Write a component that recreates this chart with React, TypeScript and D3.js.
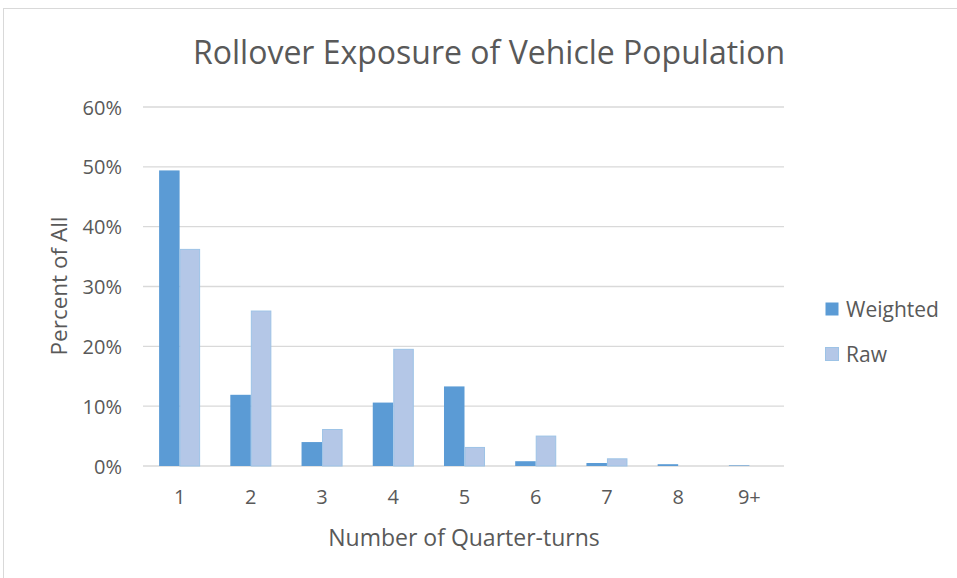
import React from "react";
import * as d3 from "d3";

const categories = ["1", "2", "3", "4", "5", "6", "7", "8", "9+"];
const weighted = [49.4, 11.9, 4.0, 10.6, 13.3, 0.8, 0.5, 0.3, 0.1];
const raw = [36.2, 25.9, 6.1, 19.5, 3.1, 5.0, 1.2, 0.0, 0.0];
const yTicks = [0, 10, 20, 30, 40, 50, 60];
const seriesNames = ["Weighted", "Raw"];

const W = 957;
const H = 578;
const plot = { left: 143, right: 784, top: 107, bottom: 466 };
const font = "'Open Sans', 'Noto Sans', sans-serif";
const textColor = "#595959";
const colors = ["#5B9BD5", "#B4C7E7"];

export default function App() {
  const x = d3.scaleBand().domain(categories).range([plot.left, plot.right]).paddingInner(0).paddingOuter(0);
  const y = d3.scaleLinear().domain([0, 60]).range([plot.bottom, plot.top]);
  const step = x.bandwidth();
  const barW = step * 0.288;
  const series = [weighted, raw];

  return (
    <svg width={W} height={H} style={{ position: "absolute", left: 0, top: 0, background: "#fff" }} fontFamily={font}>
      <rect x={3.5} y={8.5} width={W + 10} height={H + 10} fill="#fff" stroke="#d9d9d9" strokeWidth={1} />
      <text x={489} y={64} textAnchor="middle" fontSize={32} fill={textColor}>
        Rollover Exposure of Vehicle Population
      </text>
      {yTicks.map((t) => (
        <g key={t}>
          <line x1={plot.left} x2={plot.right} y1={y(t)} y2={y(t)} stroke="#d9d9d9" strokeWidth={1.3} />
          <text x={122} y={y(t) + 7.5} textAnchor="end" fontSize={20} fill={textColor}>
            {t}%
          </text>
        </g>
      ))}
      {series.map((vals, si) =>
        vals.map((v, i) => {
          const cx = (x(categories[i]) as number) + step / 2;
          const x0 = cx - barW + si * barW + 1;
          const top = y(v);
          return (
            <rect
              key={si + "-" + i}
              x={x0 + (si === 1 ? 0.5 : 0)}
              y={top}
              width={barW - (si === 1 ? 1 : 0)}
              height={Math.max(0, plot.bottom - top)}
              fill={colors[si]}
              stroke={si === 1 ? "#9DC3E6" : "none"}
              strokeWidth={si === 1 ? 1 : 0}
            />
          );
        })
      )}
      {categories.map((c) => (
        <text key={c} x={(x(c) as number) + step / 2 + 1} y={504} textAnchor="middle" fontSize={20} fill={textColor}>
          {c}
        </text>
      ))}
      <text x={464} y={546} textAnchor="middle" fontSize={23} fill={textColor}>
        Number of Quarter-turns
      </text>
      <text
        transform={`translate(67, 286) rotate(-90)`}
        textAnchor="middle"
        fontSize={22.5}
        fill={textColor}
      >
        Percent of All
      </text>
      {seriesNames.map((n, i) => (
        <g key={n}>
          <rect
            x={825.5}
            y={302.5 + i * 45}
            width={13}
            height={13}
            fill={colors[i]}
            stroke={i === 1 ? "#9DC3E6" : "none"}
          />
          <text x={846} y={317 + i * 45} fontSize={21} fill={textColor}>
            {n}
          </text>
        </g>
      ))}
    </svg>
  );
}
